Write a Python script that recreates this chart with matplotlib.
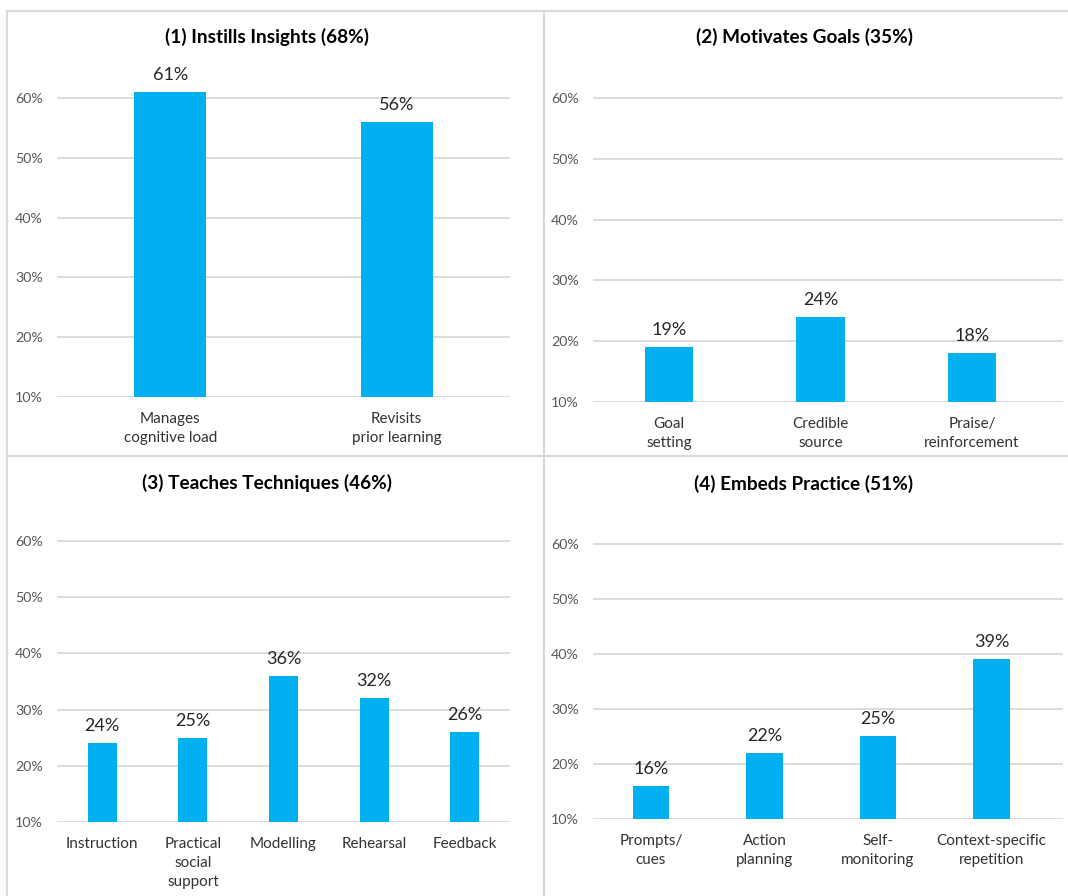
import matplotlib
matplotlib.use("Agg")
import matplotlib.pyplot as plt
from matplotlib.lines import Line2D
from matplotlib.ticker import FuncFormatter

plt.rcParams['font.family'] = ['Lato', 'DejaVu Sans']

# === Data: share of items using each technique, per domain ===
titles = [
    "(1) Instills Insights (68%)",
    "(2) Motivates Goals (35%)",
    "(3) Teaches Techniques (46%)",
    "(4) Embeds Practice (51%)",
]

insights_labels = ["Manages\ncognitive load", "Revisits\nprior learning"]
insights_values = [0.61, 0.56]

goals_labels = ["Goal\nsetting", "Credible\nsource", "Praise/\nreinforcement"]
goals_values = [0.19, 0.24, 0.18]

techniques_labels = ["Instruction", "Practical\nsocial\nsupport", "Modelling",
                     "Rehearsal", "Feedback"]
techniques_values = [0.24, 0.25, 0.36, 0.32, 0.26]

practice_labels = ["Prompts/\ncues", "Action\nplanning", "Self-\nmonitoring",
                   "Context-specific\nrepetition"]
practice_values = [0.16, 0.22, 0.25, 0.39]

yticks = [0.1, 0.2, 0.3, 0.4, 0.5, 0.6]

BAR = "#00B0F0"
GRID = "#D9D9D9"

W, H = 1068, 896
fig = plt.figure(figsize=(W / 100, H / 100), dpi=100)


def px_rect(left, right, y_bottom, y_top):
    """Axes rectangle from pixel positions (y measured from the top)."""
    return [left / W, 1 - y_bottom / H, (right - left) / W, (y_bottom - y_top) / H]


panels = [
    # rect, x-limits, title centre (px), labels, values
    (px_rect(57, 510, 397, 68), (-0.5, 1.5), (267, 37), insights_labels, insights_values),
    (px_rect(593, 1063, 402, 67.6), (-0.5, 2.6), (804, 37), goals_labels, goals_values),
    (px_rect(57, 510, 822, 513), (-0.5, 4.5), (267, 483), techniques_labels, techniques_values),
    (px_rect(593, 1063, 819, 516), (-0.51, 3.63), (804, 484), practice_labels, practice_values),
]

for (rect, xlim, tpos, labels, values), title in zip(panels, titles):
    ax = fig.add_axes(rect)
    x = list(range(len(labels)))
    ax.bar(x, values, width=0.32, color=BAR, zorder=3)
    for xi, v in zip(x, values):
        ax.annotate(f"{v * 100:.0f}%", (xi, v), xytext=(0, 6.5),
                    textcoords="offset points", ha="center", va="bottom",
                    fontsize=13, color="#262626", annotation_clip=False)

    ax.set_xlim(*xlim)
    ax.set_ylim(0.1, 0.65)
    ax.set_yticks(yticks)
    ax.yaxis.set_major_formatter(FuncFormatter(lambda v, _: f"{v * 100:.0f}%"))
    ax.set_xticks(x)
    ax.set_xticklabels(labels, linespacing=1.45)
    ax.tick_params(axis="y", length=0, pad=10, labelsize=10.3, labelcolor="#595959")
    ax.tick_params(axis="x", length=0, pad=11, labelsize=11, labelcolor="#333333")
    ax.grid(axis="y", color=GRID, linewidth=1.3, zorder=0)
    for s in ax.spines.values():
        s.set_visible(False)

    fig.text(tpos[0] / W, 1 - tpos[1] / H, title, ha="center", va="center",
             fontsize=13.7, fontweight="bold", color="black")

# === Panel frames ===
frame = dict(color=GRID, linewidth=1.5, transform=fig.transFigure)
fig.add_artist(Line2D([7 / W, 1], [1 - 11 / H] * 2, **frame))
fig.add_artist(Line2D([7 / W, 1], [1 - 456 / H] * 2, **frame))
fig.add_artist(Line2D([7 / W] * 2, [0, 1 - 11 / H], **frame))
fig.add_artist(Line2D([544 / W] * 2, [0, 1 - 11 / H], **frame))

fig.savefig("out.png", dpi=100)
